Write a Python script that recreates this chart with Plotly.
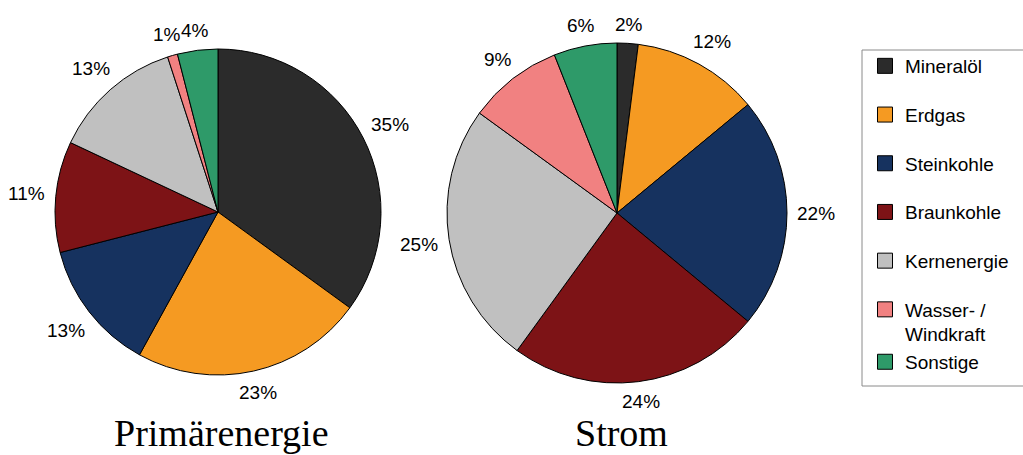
import math
import plotly.graph_objects as go

# Energy carriers and their shares (%)
categories = ["Mineralöl", "Erdgas", "Steinkohle", "Braunkohle",
              "Kernenergie", "Wasser- /<br>Windkraft", "Sonstige"]
primaer = [35, 23, 13, 11, 13, 1, 4]
strom = [2, 12, 22, 24, 25, 9, 6]
colors = ["#2b2b2b", "#f59a22", "#16325f", "#7d1316",
          "#c0c0c0", "#f18181", "#2e9a69"]
# the last two legend entries share a group so the wrapped label keeps the spacing
legend_groups = ["g1", "g2", "g3", "g4", "g5", "g6", "g6"]

W, H = 1023, 455
LABEL_SIZE = 19
SANS = "Liberation Sans, Arial"
SERIF = "Liberation Serif, Times New Roman"

pies = [
    dict(title="Primärenergie", values=primaer, cx=218, cy=212, r=163, title_x=221),
    dict(title="Strom", values=strom, cx=617, cy=213, r=170, title_x=621),
]

fig = go.Figure()

for p in pies:
    cx, cy, r = p["cx"], p["cy"], p["r"]
    fig.add_trace(go.Pie(
        labels=categories, values=p["values"],
        sort=False, direction="clockwise", rotation=0,
        marker=dict(colors=colors, line=dict(color="black", width=1)),
        textinfo="none", showlegend=False, hoverinfo="label+percent",
        domain=dict(x=[(cx - r) / W, (cx + r) / W],
                    y=[(H - cy - r) / H, (H - cy + r) / H]),
    ))

    # percentage labels set just outside each slice, along its middle angle
    total = sum(p["values"])
    cum = 0.0
    for v in p["values"]:
        theta = 2 * math.pi * (cum + v / 2) / total
        cum += v
        txt = f"{v}%"
        w = LABEL_SIZE * (0.556 * (len(txt) - 1) + 0.889)
        h = 16
        d = r + 10 + abs(math.sin(theta)) * w / 2 + abs(math.cos(theta)) * h / 2
        px = cx + d * math.sin(theta)
        py = cy - d * math.cos(theta)
        fig.add_annotation(text=txt, x=px / W, y=(H - py) / H,
                           xref="paper", yref="paper", showarrow=False,
                           xanchor="center", yanchor="middle",
                           font=dict(family=SANS, size=LABEL_SIZE, color="black"))

    fig.add_annotation(text=p["title"], x=p["title_x"] / W, y=0, xref="paper", yref="paper",
                       xanchor="center", yanchor="bottom", showarrow=False, borderpad=0,
                       font=dict(family=SERIF, size=38, color="black"))

# legend entries
for name, col, grp in zip(categories, colors, legend_groups):
    fig.add_trace(go.Scatter(
        x=[None], y=[None], mode="markers", name=name, legendgroup=grp,
        marker=dict(symbol="square", size=15, color=col,
                    line=dict(color="black", width=1)),
    ))

# legend frame
fig.add_shape(type="rect", xref="paper", yref="paper",
              x0=862 / W, x1=1.02, y0=(H - 386) / H, y1=(H - 50) / H,
              line=dict(color="#8a8a8a", width=1), fillcolor="rgba(0,0,0,0)")

fig.update_layout(
    width=W, height=H,
    margin=dict(l=0, r=0, t=0, b=0),
    paper_bgcolor="white", plot_bgcolor="white",
    xaxis=dict(visible=False), yaxis=dict(visible=False),
    legend=dict(x=865 / W, y=(H - 47) / H, xanchor="left", yanchor="top",
                valign="top", bgcolor="rgba(0,0,0,0)", traceorder="grouped",
                tracegroupgap=21, itemwidth=30,
                font=dict(family=SANS, size=LABEL_SIZE, color="black")),
)

fig.write_html("out.html")
